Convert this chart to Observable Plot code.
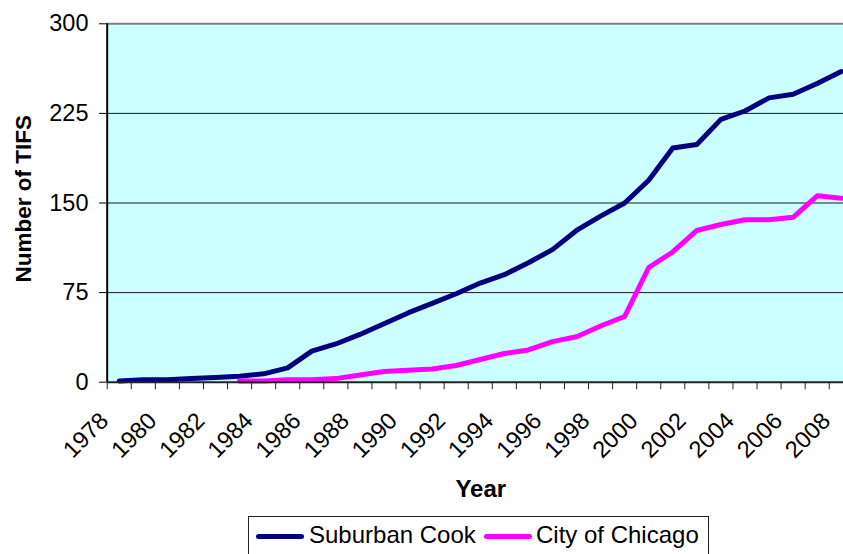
<!DOCTYPE html>
<html><head><meta charset="utf-8">
<script src="https://cdn.jsdelivr.net/npm/d3@7"></script>
<script src="https://cdn.jsdelivr.net/npm/@observablehq/plot@0.6"></script>
<style>
body{margin:0;background:#fff;font-family:"Liberation Sans",Arial,sans-serif;}
#wrap{position:relative;width:843px;height:554px;overflow:hidden;background:#fff;}
#chart{position:absolute;left:0;top:0;}
#legend{position:absolute;left:247.5px;top:515.5px;width:461px;height:50px;border:1px solid #222;box-sizing:border-box;background:#fff;}
.sw{position:absolute;height:5px;width:48px;border-radius:2.5px;top:533.5px;}
.lt{position:absolute;top:521.5px;font-size:24px;line-height:26px;color:#000;white-space:nowrap;}
</style></head><body>
<div id="wrap"><div id="chart"></div><div id="legend"></div></div>
<script>
const years = [1978,1979,1980,1981,1982,1983,1984,1985,1986,1987,1988,1989,1990,1991,1992,1993,1994,1995,1996,1997,1998,1999,2000,2001,2002,2003,2004,2005,2006,2007,2008];
const suburbanCook = [1,2,2,3,4,5,7,12,26,32,40,49,58,66,74,83,90,100,111,127,139,150,169,196,199,220,227,238,241,250,260];
const cityOfChicago = [null,null,null,null,null,1,1,2,2,3,6,9,10,11,14,19,24,27,34,38,47,55,96,109,127,132,136,136,138,156,154];
const yTicks = [0,75,150,225,300];
const xTickLabels = [1978,1980,1982,1984,1986,1988,1990,1992,1994,1996,1998,2000,2002,2004,2006,2008];
const seriesNames = ["Suburban Cook","City of Chicago"];
const seriesColors = ["#000080","#FF00FF"];

const rows = [];
years.forEach((yr, i) => {
  rows.push({year: yr, series: seriesNames[0], value: suburbanCook[i]});
  if (cityOfChicago[i] != null) rows.push({year: yr, series: seriesNames[1], value: cityOfChicago[i]});
});
const bounds = years.map(y => y - 0.5).concat([years[years.length - 1] + 0.5]);

const W = 843, H = 505, pLeft = 106.7, pTop = 23.3, pBottom = 381.7, pRight = 852.8;
const font = '"Liberation Sans", Arial, sans-serif';
const chart = Plot.plot({
  width: W, height: H,
  marginLeft: pLeft, marginTop: pTop, marginBottom: H - pBottom, marginRight: 0,
  style: {fontFamily: font, fontSize: "23px", background: "transparent", overflow: "visible"},
  x: {domain: [bounds[0], bounds[bounds.length - 1]], range: [pLeft, pRight]},
  y: {domain: [0, 300], range: [pBottom, pTop]},
  color: {domain: seriesNames, range: seriesColors},
  marks: [
    Plot.frame({fill: "#CCFFFF", stroke: null}),
    Plot.ruleY([75, 150, 225], {stroke: "#1a1a1a", strokeWidth: 1}),
    Plot.ruleY([300], {stroke: "#808080", strokeWidth: 2}),
    Plot.line(rows, {x: "year", y: "value", stroke: "series", z: "series", strokeWidth: 5, strokeLinejoin: "round", strokeLinecap: "round"}),
    Plot.ruleY([0], {stroke: "#222", strokeWidth: 2}),
    Plot.ruleX([bounds[0]], {stroke: "#000", strokeWidth: 2}),
    Plot.axisY({ticks: yTicks, tickSize: 7.7, tickPadding: 11, label: null, fontSize: 23.5, stroke: "#000", fill: "#000"}),
    Plot.axisX({ticks: bounds, tickSize: 7.5, tickFormat: () => "", label: null, stroke: "#222"}),
    Plot.text(xTickLabels, {x: d => d, y: () => 0, text: d => String(d), rotate: -45, textAnchor: "end", lineAnchor: "bottom", dx: -9.5, dy: 40, fontSize: 23.5, fill: "#000"}),
    Plot.text(["Year"], {frameAnchor: "bottom", dx: 5.4, dy: 114.3, lineAnchor: "bottom", fontWeight: "bold", fontSize: 24, fill: "#000"}),
    Plot.text(["Number of TIFS"], {frameAnchor: "left", rotate: -90, dx: -76.7, dy: -4.2, lineAnchor: "bottom", textAnchor: "middle", fontWeight: "bold", fontSize: 22.5, fill: "#000"})
  ]
});
document.getElementById("chart").appendChild(chart);

const wrap = document.getElementById("wrap");
const swX = [256, 483.5], txX = [309, 536];
seriesNames.forEach((name, i) => {
  const s = document.createElement("div");
  s.className = "sw"; s.style.left = swX[i] + "px"; s.style.background = seriesColors[i];
  wrap.appendChild(s);
  const t = document.createElement("div");
  t.className = "lt"; t.style.left = txX[i] + "px"; t.textContent = name;
  wrap.appendChild(t);
});
</script>
</body></html>
